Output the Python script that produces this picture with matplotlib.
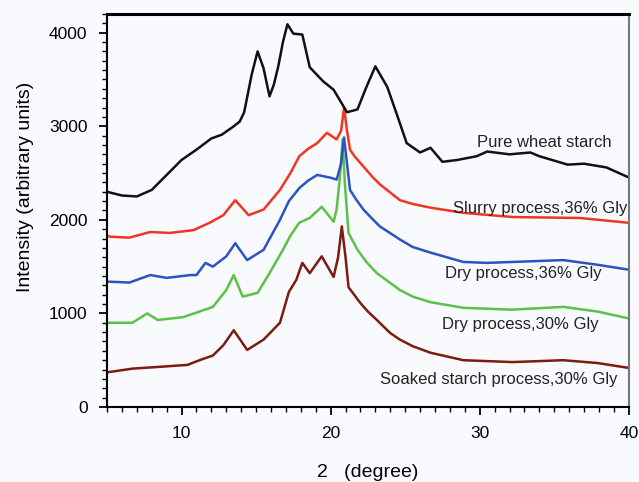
import matplotlib
matplotlib.use("Agg")
import matplotlib.pyplot as plt
from matplotlib.ticker import MultipleLocator

plt.rcParams['font.family'] = ['Liberation Sans', 'DejaVu Sans']

# diffraction angle (2 theta) and intensity
wheat_x = [5.0, 6.0, 7.0, 8.0, 9.0, 10.0, 11.0, 12.0, 12.7, 13.5, 13.9, 14.2, 14.7, 15.1, 15.5,
           15.9, 16.2, 16.5, 16.8, 17.1, 17.5, 18.1, 18.6, 19.5, 20.2, 21.1, 21.8, 22.4, 23.0,
           23.8, 24.5, 25.1, 26.0, 26.7, 27.5, 28.5, 29.8, 30.5, 32.0, 33.4, 34.0, 35.9, 37.0,
           38.5, 39.9]
wheat_y = [2300, 2260, 2250, 2320, 2480, 2640, 2750, 2870, 2910, 3000, 3050, 3150, 3550, 3800, 3620,
           3320, 3450, 3650, 3900, 4090, 3990, 3980, 3630, 3480, 3390, 3150, 3180, 3420, 3640,
           3420, 3100, 2820, 2720, 2770, 2620, 2640, 2680, 2730, 2700, 2720, 2680, 2590, 2600,
           2560, 2460]

slurry_x = [5.0, 5.2, 6.5, 7.9, 9.2, 10.8, 11.9, 12.8, 13.6, 14.5, 15.5, 16.6, 17.3, 17.9, 18.5,
            19.1, 19.75, 20.4, 20.7, 20.9, 21.1, 21.3, 21.6, 22.2, 22.8, 23.3, 24.65, 25.5, 26.7,
            28.9, 32.2, 36.7, 39.9]
slurry_y = [1830, 1820, 1810, 1870, 1860, 1890, 1970, 2050, 2210, 2050, 2110, 2320, 2500, 2680, 2760,
            2820, 2930, 2860, 2950, 3200, 2950, 2750, 2680, 2570, 2460, 2380, 2210, 2170, 2130,
            2075, 2030, 2020, 1970]

dry36_x = [5.0, 6.5, 7.9, 9.0, 10.6, 11.0, 11.6, 12.1, 13.0, 13.6, 14.4, 15.5, 16.6, 17.2, 17.9,
           18.5, 19.1, 20.0, 20.4, 20.7, 20.9, 21.1, 21.3, 21.7, 22.2, 22.8, 23.3, 24.65, 25.5,
           26.7, 28.9, 30.5, 32.2, 35.6, 37.9, 39.9]
dry36_y = [1340, 1330, 1410, 1380, 1410, 1410, 1540, 1500, 1610, 1750, 1570, 1680, 2000, 2200, 2340,
           2420, 2480, 2450, 2430, 2600, 2880, 2600, 2320, 2220, 2110, 2010, 1930, 1790, 1710,
           1650, 1550, 1540, 1550, 1570, 1520, 1470]

dry30_x = [5.0, 6.7, 7.7, 8.4, 10.1, 11.2, 12.1, 13.0, 13.5, 14.1, 15.1, 15.9, 16.8, 17.3, 17.9,
           18.6, 19.4, 20.2, 20.4, 20.65, 20.8, 20.95, 21.2, 21.8, 22.4, 23.1, 24.65, 25.5, 26.7,
           28.9, 32.2, 35.6, 37.9, 39.9]
dry30_y = [900, 900, 1000, 930, 960, 1020, 1070, 1250, 1410, 1180, 1220, 1430, 1680, 1830, 1970,
           2020, 2140, 1980, 2110, 2500, 2860, 2400, 1860, 1680, 1550, 1430, 1250, 1180, 1120,
           1060, 1040, 1070, 1020, 950]

soaked_x = [5.0, 6.7, 8.6, 10.4, 11.2, 12.1, 12.8, 13.5, 14.4, 15.5, 16.6, 17.2, 17.7, 18.1, 18.6,
            19.4, 20.2, 20.5, 20.75, 21.0, 21.2, 22.0, 22.5, 23.1, 24.0, 24.65, 25.5, 26.7, 28.9,
            32.2, 35.6, 37.9, 39.9]
soaked_y = [370, 410, 430, 450, 500, 550, 660, 820, 610, 720, 900, 1230, 1360, 1540, 1430,
            1610, 1390, 1600, 1930, 1600, 1280, 1110, 1020, 930, 790, 720, 650, 580, 500,
            480, 500, 470, 420]

labels = ['Pure wheat starch', 'Slurry process,36% Gly', 'Dry process,36% Gly',
          'Dry process,30% Gly', 'Soaked starch process,30% Gly']

bg = '#f9fafd'
fig = plt.figure(figsize=(6.39, 4.82), dpi=100, facecolor=bg)
ax = fig.add_axes([0.1675, 0.1556, 0.8165, 0.8154], facecolor=bg)

ax.plot(soaked_x, soaked_y, color='#7b1c12', lw=1.8)
ax.plot(dry30_x, dry30_y, color='#5ac247', lw=1.8)
ax.plot(dry36_x, dry36_y, color='#2c52c4', lw=1.8)
ax.plot(slurry_x, slurry_y, color='#f23422', lw=1.8)
ax.plot(wheat_x, wheat_y, color='#111111', lw=1.8)

# curve labels
ax.text(29.8, 2830, labels[0], fontsize=12, va='center', ha='left', color='#222222')
ax.text(28.2, 2120, labels[1], fontsize=12, va='center', ha='left', color='#222222')
ax.text(27.7, 1430, labels[2], fontsize=12, va='center', ha='left', color='#222222')
ax.text(27.5, 880, labels[3], fontsize=12, va='center', ha='left', color='#222222')
ax.text(23.3, 290, labels[4], fontsize=12, va='center', ha='left', color='#222222')

ax.set_xlim(5, 40)
ax.set_ylim(0, 4200)
ax.set_xticks([10, 20, 30, 40])
ax.set_yticks([0, 1000, 2000, 3000, 4000])
ax.xaxis.set_minor_locator(MultipleLocator(1))
ax.yaxis.set_minor_locator(MultipleLocator(100))
ax.tick_params(which='major', direction='out', length=6, width=1.3, labelsize=12.5, pad=8)
ax.tick_params(which='minor', direction='out', length=3.5, width=1.0)

for s in ['left', 'bottom']:
    ax.spines[s].set_linewidth(1.5)
ax.spines['top'].set_linewidth(2.2)
ax.spines['right'].set_color('#777777')
ax.spines['right'].set_linewidth(1.5)

ax.set_xlabel('2   (degree)', fontsize=14, labelpad=16)
ax.set_ylabel('Intensity (arbitrary units)', fontsize=14, labelpad=10)
ax.yaxis.set_label_coords(-0.14, 0.56)

fig.savefig('out.png', dpi=100, facecolor=bg)
